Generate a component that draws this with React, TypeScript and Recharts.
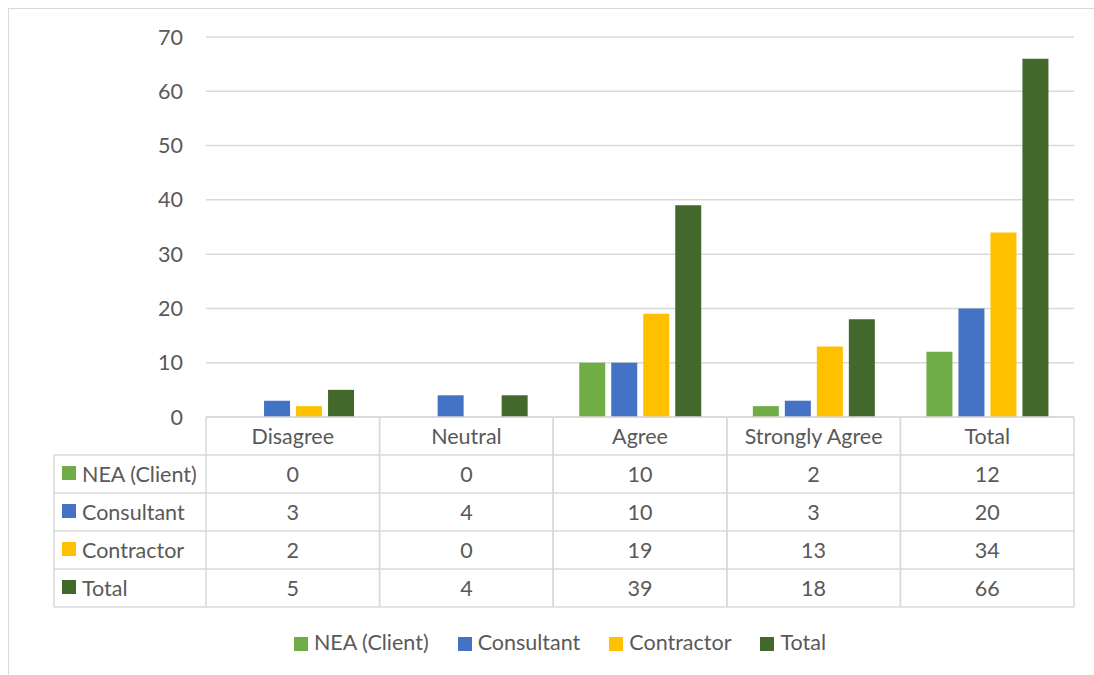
import { BarChart, Bar, XAxis, YAxis, CartesianGrid, Legend } from 'recharts'

const categories = ['Disagree', 'Neutral', 'Agree', 'Strongly Agree', 'Total']
const neaClient = [0, 0, 10, 2, 12]
const consultant = [3, 4, 10, 3, 20]
const contractor = [2, 0, 19, 13, 34]
const total = [5, 4, 39, 18, 66]
const yTicks = [0, 10, 20, 30, 40, 50, 60, 70]

const SERIES = [
  { key: 'nea', name: 'NEA (Client)', color: '#70AD47', values: neaClient },
  { key: 'consultant', name: 'Consultant', color: '#4472C4', values: consultant },
  { key: 'contractor', name: 'Contractor', color: '#FFC000', values: contractor },
  { key: 'total', name: 'Total', color: '#43682B', values: total },
]

const data = categories.map((category, i) => {
  const row: Record<string, string | number> = { category }
  SERIES.forEach((s) => {
    row[s.key] = s.values[i]
  })
  return row
})

// layout (svg coords)
const W = 1085
const H = 658
const PLOT_LEFT = 197
const PLOT_RIGHT = 1065
const PLOT_TOP = 28
const PLOT_BOTTOM = 408
const ROW_H = 38
const TABLE_LEFT = 45
const TABLE_BOTTOM = PLOT_BOTTOM + ROW_H * 5
const BAND = (PLOT_RIGHT - PLOT_LEFT) / categories.length
const LEGEND_H = 24
const LEGEND_BOTTOM = 13
const FONT = 'Lato, "Open Sans", sans-serif'
const FS = 21.5
const TEXT = '#595959'
const LINE = '#D9D9D9'

function TableTick(props: any) {
  const { x, payload } = props
  const i = payload.index
  const left = x - BAND / 2
  const right = x + BAND / 2
  return (
    <g fontFamily={FONT} fontSize={FS} fill={TEXT}>
      {i === 0 && (
        <g>
          <line x1={TABLE_LEFT} x2={TABLE_LEFT} y1={PLOT_BOTTOM + ROW_H} y2={TABLE_BOTTOM} stroke={LINE} strokeWidth={1.5} />
          {SERIES.map((s, r) => {
            const cy = PLOT_BOTTOM + ROW_H * (r + 1) + ROW_H / 2
            return (
              <g key={s.key}>
                <line x1={TABLE_LEFT} x2={left} y1={PLOT_BOTTOM + ROW_H * (r + 1)} y2={PLOT_BOTTOM + ROW_H * (r + 1)} stroke={LINE} strokeWidth={1.5} />
                <rect x={TABLE_LEFT + 8} y={cy - 8} width={14} height={14} fill={s.color} />
                <text x={TABLE_LEFT + 28} y={cy} dominantBaseline="central" fill={TEXT}>{s.name}</text>
              </g>
            )
          })}
          <line x1={TABLE_LEFT} x2={left} y1={TABLE_BOTTOM} y2={TABLE_BOTTOM} stroke={LINE} strokeWidth={1.5} />
        </g>
      )}
      <line x1={left} x2={left} y1={PLOT_BOTTOM} y2={TABLE_BOTTOM} stroke={LINE} strokeWidth={1.5} />
      <line x1={right} x2={right} y1={PLOT_BOTTOM} y2={TABLE_BOTTOM} stroke={LINE} strokeWidth={1.5} />
      {[1, 2, 3, 4, 5].map((r) => (
        <line key={r} x1={left} x2={right} y1={PLOT_BOTTOM + ROW_H * r} y2={PLOT_BOTTOM + ROW_H * r} stroke={LINE} strokeWidth={1.5} />
      ))}
      <text x={x} y={PLOT_BOTTOM + ROW_H / 2} textAnchor="middle" dominantBaseline="central" fill={TEXT}>
        {payload.value}
      </text>
      {SERIES.map((s, r) => (
        <text key={s.key} x={x} y={PLOT_BOTTOM + ROW_H * (r + 1) + ROW_H / 2} textAnchor="middle" dominantBaseline="central" fill={TEXT}>
          {s.values[i]}
        </text>
      ))}
    </g>
  )
}

function LegendContent() {
  return (
    <div style={{ display: 'flex', justifyContent: 'center', alignItems: 'center', height: LEGEND_H, fontFamily: FONT, fontSize: FS, color: TEXT }}>
      {SERIES.map((s) => (
        <div key={s.key} style={{ display: 'flex', alignItems: 'center', margin: '0 14.5px' }}>
          <span style={{ width: 14, height: 14, background: s.color, display: 'inline-block', marginRight: 6, marginTop: 3 }} />
          <span>{s.name}</span>
        </div>
      ))}
    </div>
  )
}

export default function App() {
  return (
    <div
      style={{
        position: 'fixed',
        left: 8,
        top: 8,
        width: 1086,
        height: 667,
        overflow: 'hidden',
        borderLeft: `1px solid ${LINE}`,
        borderTop: `1px solid ${LINE}`,
        background: '#fff',
      }}
    >
      <BarChart
        width={W}
        height={H}
        data={data}
        margin={{ top: PLOT_TOP, right: W - PLOT_RIGHT, left: PLOT_LEFT - 60, bottom: LEGEND_BOTTOM }}
        barCategoryGap="15%"
        barGap={6}
      >
        <CartesianGrid vertical={false} stroke={LINE} strokeWidth={1.5} />
        <XAxis
          dataKey="category"
          height={H - PLOT_BOTTOM - LEGEND_H - LEGEND_BOTTOM}
          tickLine={false}
          tickSize={0}
          tickMargin={0}
          axisLine={{ stroke: LINE, strokeWidth: 1.5 }}
          interval={0}
          tick={<TableTick />}
        />
        <YAxis
          width={60}
          domain={[0, 70]}
          ticks={yTicks}
          axisLine={false}
          tickLine={false}
          tickSize={0}
          tickMargin={23}
          tick={{ fill: TEXT, fontSize: FS, fontFamily: FONT }}
        />
        {SERIES.map((s) => (
          <Bar key={s.key} dataKey={s.key} name={s.name} fill={s.color} isAnimationActive={false} />
        ))}
        <Legend verticalAlign="bottom" wrapperStyle={{ height: LEGEND_H, left: 0, width: 1102 }} content={<LegendContent />} />
      </BarChart>
    </div>
  )
}
